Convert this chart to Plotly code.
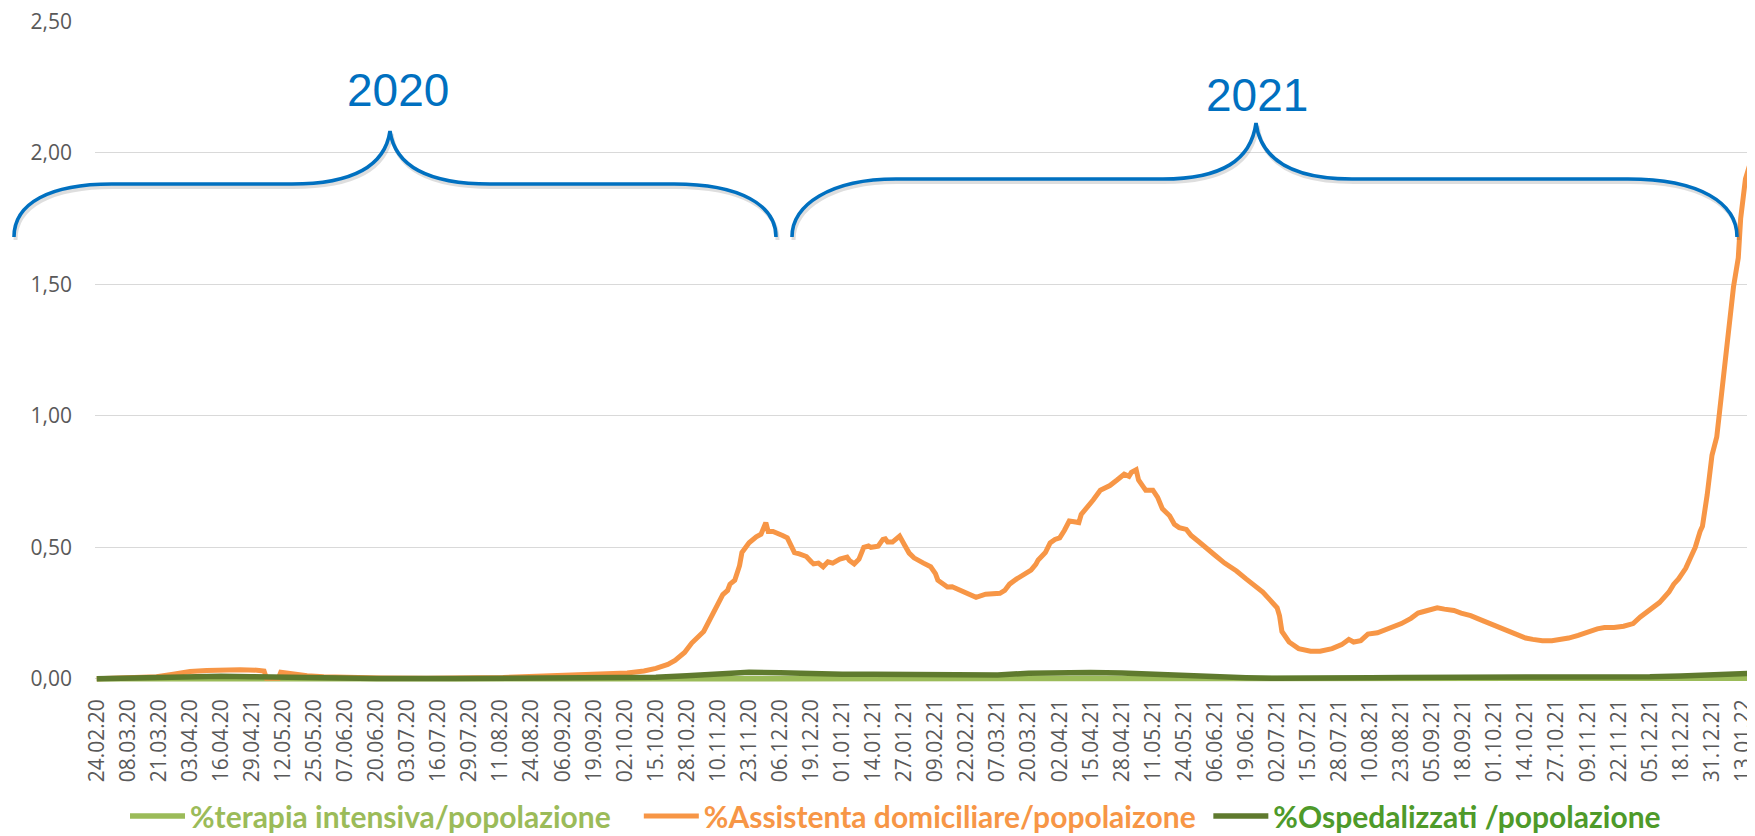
import pandas as pd
import plotly.graph_objects as go

# ---------------- data ----------------
START = "2020-02-24"

TICK_LABELS = [
    "24.02.20", "08.03.20", "21.03.20", "03.04.20", "16.04.20", "29.04.21", "12.05.20",
    "25.05.20", "07.06.20", "20.06.20", "03.07.20", "16.07.20", "29.07.20", "11.08.20",
    "24.08.20", "06.09.20", "19.09.20", "02.10.20", "15.10.20", "28.10.20", "10.11.20",
    "23.11.20", "06.12.20", "19.12.20", "01.01.21", "14.01.21", "27.01.21", "09.02.21",
    "22.02.21", "07.03.21", "20.03.21", "02.04.21", "15.04.21", "28.04.21", "11.05.21",
    "24.05.21", "06.06.21", "19.06.21", "02.07.21", "15.07.21", "28.07.21", "10.08.21",
    "23.08.21", "05.09.21", "18.09.21", "01.10.21", "14.10.21", "27.10.21", "09.11.21",
    "22.11.21", "05.12.21", "18.12.21", "31.12.21", "13.01.22",
]

# %Assistenta domiciliare/popolaizone  (days since 24.02.2020, value)
home_day = [0, 16, 25, 32, 39, 46, 53, 60, 67, 70, 71, 76, 77, 81, 88, 95, 105, 119, 138,
            156, 170, 184, 198, 212, 222, 229, 234, 239, 242, 246, 249, 254, 257, 259, 262,
            264, 265, 267, 269, 270, 273, 276, 278, 280, 281, 283, 285, 287, 289, 292, 294,
            297, 299, 300, 302, 304, 306, 308, 311, 314, 315, 317, 319, 321, 323, 324, 327,
            329, 330, 331, 333, 335, 336, 338, 340, 342, 344, 346, 349, 351, 352, 354, 356,
            358, 360, 362, 364, 366, 368, 372, 375, 378, 380, 382, 385, 388, 391, 393, 394,
            397, 399, 401, 403, 405, 407, 409, 411, 412, 414, 417, 420, 424, 427, 428, 430,
            432, 433, 435, 436, 438, 439, 442, 444, 446, 449, 451, 453, 456, 458, 461, 465,
            468, 472, 477, 481, 484, 488, 491, 494, 495, 496, 499, 503, 508, 512, 517, 521,
            524, 526, 529, 532, 536, 539, 543, 546, 550, 553, 555, 558, 561, 564, 568, 571,
            575, 579, 583, 586, 590, 594, 598, 601, 605, 609, 613, 616, 620, 624, 628, 631,
            635, 639, 643, 646, 650, 654, 658, 660, 662, 665, 667, 669, 671, 672, 674, 676,
            678, 679, 681, 683, 685, 687, 688, 690, 692, 694, 697]
home_pct = [0.000, 0.003, 0.008, 0.018, 0.028, 0.032, 0.035, 0.035, 0.033, 0.030, 0.002, 0.002,
            0.025, 0.020, 0.012, 0.008, 0.005, 0.003, 0.002, 0.003, 0.005, 0.010, 0.015, 0.018,
            0.022, 0.030, 0.040, 0.055, 0.070, 0.100, 0.136, 0.180, 0.230, 0.270, 0.320, 0.336,
            0.360, 0.375, 0.430, 0.480, 0.517, 0.540, 0.550, 0.594, 0.560, 0.560, 0.550, 0.545,
            0.536, 0.480, 0.475, 0.465, 0.445, 0.437, 0.440, 0.426, 0.445, 0.440, 0.455, 0.463,
            0.450, 0.437, 0.455, 0.500, 0.505, 0.500, 0.504, 0.530, 0.532, 0.520, 0.520, 0.535,
            0.543, 0.510, 0.478, 0.460, 0.452, 0.440, 0.426, 0.400, 0.375, 0.360, 0.349, 0.350,
            0.342, 0.335, 0.330, 0.318, 0.310, 0.322, 0.323, 0.325, 0.336, 0.360, 0.380, 0.395,
            0.413, 0.435, 0.452, 0.480, 0.517, 0.530, 0.536, 0.565, 0.600, 0.597, 0.594, 0.625,
            0.646, 0.680, 0.717, 0.735, 0.756, 0.765, 0.778, 0.770, 0.785, 0.795, 0.756, 0.730,
            0.717, 0.717, 0.690, 0.646, 0.620, 0.588, 0.575, 0.568, 0.545, 0.523, 0.490, 0.470,
            0.440, 0.410, 0.380, 0.360, 0.330, 0.300, 0.270, 0.240, 0.180, 0.140, 0.115, 0.105,
            0.105, 0.115, 0.130, 0.150, 0.140, 0.145, 0.170, 0.175, 0.185, 0.200, 0.210, 0.230,
            0.250, 0.255, 0.265, 0.270, 0.265, 0.260, 0.250, 0.240, 0.225, 0.210, 0.195, 0.180,
            0.165, 0.155, 0.150, 0.145, 0.145, 0.150, 0.155, 0.165, 0.180, 0.190, 0.195, 0.195,
            0.200, 0.210, 0.235, 0.260, 0.290, 0.330, 0.360, 0.380, 0.420, 0.460, 0.500, 0.560,
            0.580, 0.700, 0.850, 0.920, 1.000, 1.150, 1.350, 1.490, 1.600, 1.750, 1.900, 1.960,
            1.980, 1.990]

# %Ospedalizzati /popolazione
hosp_day = [0, 13, 26, 39, 52, 65, 78, 91, 104, 117, 150, 190, 221, 234, 247, 260, 273, 286,
            299, 312, 325, 338, 351, 364, 377, 390, 403, 416, 429, 442, 455, 468, 481, 494,
            507, 520, 533, 546, 559, 572, 585, 598, 611, 624, 637, 650, 663, 676, 689, 697]
hosp_pct = [0.000, 0.002, 0.008, 0.011, 0.010, 0.008, 0.005, 0.003, 0.002, 0.001, 0.001,
            0.002, 0.004, 0.006, 0.012, 0.020, 0.025, 0.023, 0.019, 0.017, 0.017, 0.016,
            0.013, 0.012, 0.015, 0.021, 0.024, 0.024, 0.022, 0.017, 0.011, 0.007, 0.004,
            0.002, 0.0015, 0.002, 0.004, 0.0055, 0.0055, 0.005, 0.0035, 0.003, 0.003,
            0.0035, 0.006, 0.008, 0.011, 0.014, 0.020, 0.022]

# %terapia intensiva/popolazione
icu_day = [0, 26, 39, 52, 78, 104, 220, 234, 260, 273, 299, 325, 351, 377, 403, 429, 455,
           481, 507, 546, 572, 611, 650, 676, 697]
icu_pct = [0.000, 0.0015, 0.002, 0.0015, 0.0006, 0.0002, 0.0002, 0.0008, 0.0025, 0.0032,
           0.0026, 0.0022, 0.0019, 0.0025, 0.0033, 0.0028, 0.0015, 0.0006, 0.0003, 0.0008,
           0.0008, 0.0005, 0.0010, 0.0017, 0.0022]

YEAR_LABELS = ["2020", "2021"]
Y_TICKS = [0, 0.5, 1.0, 1.5, 2.0, 2.5]

# ---------------- layout constants ----------------
# the page body adds an 8 px margin, so the figure is drawn 8 px smaller and
# every page-pixel position below is shifted by OFF.
OFF = 8
W, H = 1755 - OFF, 836 - OFF
ML, MR, MT, MB = 95 - OFF, 0, 21 - OFF, 836 - 682
PW, PH = W - ML - MR, H - MT - MB

def fx(x_page):
    return (x_page - OFF - ML) / PW

def fy(y_page):
    return (MT + PH - (y_page - OFF)) / PH

start = pd.Timestamp(START)
to_dates = lambda days: [start + pd.Timedelta(days=d) for d in days]
tick_vals = pd.date_range(START, periods=len(TICK_LABELS), freq="13D")

C_ORANGE = "#F79646"
C_LGREEN = "#9BBB59"
C_DGREEN = "#5F7A2E"
C_BLUE = "#0070C0"
NB = "\u00a0"

fig = go.Figure()
fig.add_trace(go.Scatter(
    x=to_dates(icu_day), y=icu_pct, mode="lines",
    line=dict(color=C_LGREEN, width=5.5),
    name="<b><span style='color:#9BBB59'>%terapia intensiva/popolazione</span></b>" + NB * 3))
fig.add_trace(go.Scatter(
    x=to_dates(home_day), y=home_pct, mode="lines",
    line=dict(color=C_ORANGE, width=5),
    name="<b><span style='color:#F79646'>%Assistenta domiciliare/popolaizone</span></b>" + NB * 1))
fig.add_trace(go.Scatter(
    x=to_dates(hosp_day), y=hosp_pct, mode="lines",
    line=dict(color=C_DGREEN, width=5.5),
    name="<b><span style='color:#4E9A2A'>%Ospedalizzati /popolazione</span></b>"))

# ---------------- braces ----------------
def path_px(cmds):
    out = []
    for c in cmds:
        if isinstance(c, str):
            out.append(c)
        else:
            out.append(f"{fx(c[0]):.5f},{fy(c[1]):.5f}")
    return " ".join(out)

brace1 = ["M", (14, 237), "C", (14, 203), (50, 184), (112, 184), "L", (292, 184),
          "C", (352, 184), (385, 166), (390, 131), "C", (395, 166), (428, 184), (490, 184),
          "L", (674, 184), "C", (740, 184), (776, 205), (776, 237)]
brace2 = ["M", (792, 237), "C", (792, 205), (830, 179), (896, 179), "L", (1163, 179),
          "C", (1222, 179), (1251, 160), (1256, 123), "C", (1261, 160), (1292, 179), (1352, 179),
          "L", (1628, 179), "C", (1700, 179), (1737, 203), (1737, 237)]

def shifted(cmds, dx, dy):
    return [c if isinstance(c, str) else (c[0] + dx, c[1] + dy) for c in cmds]

shapes = []
for b in (brace1, brace2):
    shapes.append(dict(type="path", xref="paper", yref="paper", layer="above",
                       path=path_px(shifted(b, 1.5, 3)),
                       line=dict(color="rgba(0,0,0,0.13)", width=4)))
    shapes.append(dict(type="path", xref="paper", yref="paper", layer="above",
                       path=path_px(b), line=dict(color=C_BLUE, width=3.6)))

annotations = [
    dict(text=YEAR_LABELS[0], x=fx(398), y=fy(90), xref="paper", yref="paper",
         showarrow=False, xanchor="center", yanchor="middle",
         font=dict(family="Liberation Sans, Arial", size=46, color=C_BLUE)),
    dict(text=YEAR_LABELS[1], x=fx(1257), y=fy(95), xref="paper", yref="paper",
         showarrow=False, xanchor="center", yanchor="middle",
         font=dict(family="Liberation Sans, Arial", size=46, color=C_BLUE)),
]

TICK_FONT = dict(family="Open Sans", size=21, color="#595959")

fig.update_layout(
    width=W, height=H,
    margin=dict(l=ML, r=MR, t=MT, b=MB, autoexpand=False),
    paper_bgcolor="white", plot_bgcolor="white",
    separators=",.",
    showlegend=True,
    legend=dict(orientation="h", x=fx(125), xanchor="left", y=fy(816), yanchor="middle",
                font=dict(family="Lato, Open Sans", size=30), itemwidth=55,
                bgcolor="rgba(0,0,0,0)", traceorder="normal"),
    shapes=shapes, annotations=annotations,
    xaxis=dict(type="date",
               range=[start - pd.Timedelta(hours=18), start + pd.Timedelta(days=694)],
               tickmode="array", tickvals=tick_vals, ticktext=TICK_LABELS,
               tickangle=-90, showgrid=False, zeroline=False, showline=False,
               ticks="", ticklabelstandoff=12, automargin=False,
               ticklabeloverflow="allow", tickfont=TICK_FONT),
    yaxis=dict(range=[-0.012, 2.5008], tickmode="array",
               tickvals=Y_TICKS, tickformat=".2f",
               showgrid=True, gridcolor="#D9D9D9", gridwidth=1.3,
               zeroline=False, showline=False, ticks="", ticklabelstandoff=22,
               automargin=False, ticklabeloverflow="allow", tickfont=TICK_FONT),
)

fig.write_html("out.html")
